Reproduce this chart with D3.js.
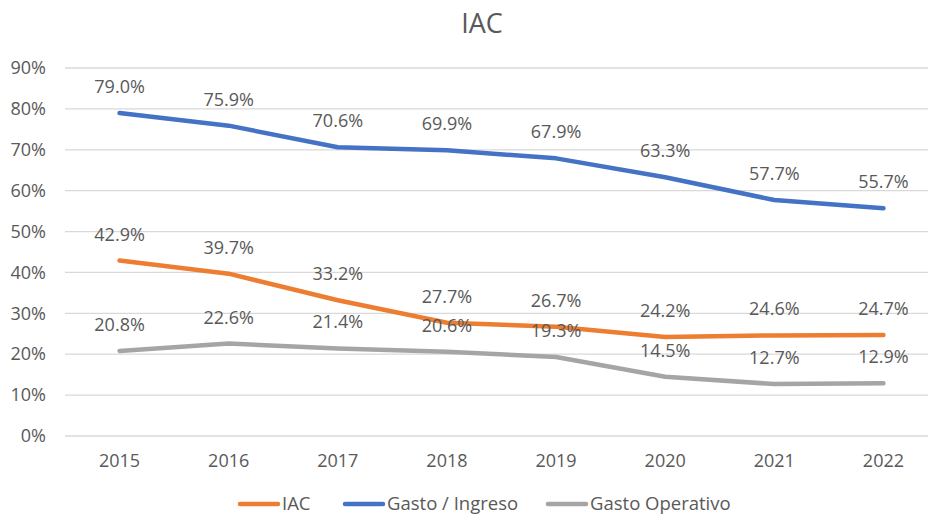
<!DOCTYPE html>
<html>
<head>
<meta charset="utf-8">
<script src="https://cdn.jsdelivr.net/npm/d3@7"></script>
<style>
  body { margin: 0; background: #fff; }
  text { font-family: "Open Sans", "Liberation Sans", sans-serif; }
</style>
</head>
<body>
<svg id="chart" width="928" height="517"></svg>
<script>
var years = ["2015", "2016", "2017", "2018", "2019", "2020", "2021", "2022"];
var iac = [42.9, 39.7, 33.2, 27.7, 26.7, 24.2, 24.6, 24.7];
var gastoIngreso = [79.0, 75.9, 70.6, 69.9, 67.9, 63.3, 57.7, 55.7];
var gastoOperativo = [20.8, 22.6, 21.4, 20.6, 19.3, 14.5, 12.7, 12.9];
var yTicks = [0, 10, 20, 30, 40, 50, 60, 70, 80, 90];

var series = [
    { name: "IAC", values: iac, color: "#ED7D31" },
    { name: "Gasto / Ingreso", values: gastoIngreso, color: "#4472C4" },
    { name: "Gasto Operativo", values: gastoOperativo, color: "#A5A5A5" }
];

var svg = d3.select("#chart");
var txt = "#595959";
var fs = 18;

var x = d3.scaleBand().domain(years).range([65, 938]);
var y = d3.scaleLinear().domain([0, 90]).range([436, 68]);

// title
svg.append("text")
    .attr("x", 482).attr("y", 33).attr("text-anchor", "middle")
    .attr("font-size", 27).attr("fill", txt).text("IAC");

// gridlines
svg.selectAll(".grid").data(yTicks).enter().append("line")
    .attr("x1", 65).attr("x2", 928)
    .attr("y1", function(d) { return y(d); }).attr("y2", function(d) { return y(d); })
    .attr("stroke", "#D9D9D9").attr("stroke-width", 1.3);

// y axis labels
var yAxis = d3.axisLeft(y).tickValues(yTicks).tickSize(0).tickPadding(0)
    .tickFormat(function(d) { return d + "%"; });
var gy = svg.append("g").attr("transform", "translate(46,0)").call(yAxis);
gy.select(".domain").remove();
gy.selectAll("text").attr("font-size", fs).attr("fill", txt)
    .attr("font-family", "'Open Sans', 'Liberation Sans', sans-serif");

// x axis labels
var xAxis = d3.axisBottom(x).tickSize(0).tickPadding(0);
var gx = svg.append("g").attr("transform", "translate(0,454)").call(xAxis);
gx.select(".domain").remove();
gx.selectAll("text").attr("font-size", fs).attr("fill", txt)
    .attr("font-family", "'Open Sans', 'Liberation Sans', sans-serif");

var cx = function(d, i) { return x(years[i]) + x.bandwidth() / 2; };
var line = d3.line().x(cx).y(function(d) { return y(d); });

series.forEach(function(s) {
    svg.append("path")
        .datum(s.values)
        .attr("d", line)
        .attr("fill", "none")
        .attr("stroke", s.color)
        .attr("stroke-width", 4.5)
        .attr("stroke-linecap", "round")
        .attr("stroke-linejoin", "round");
});

// data labels
series.forEach(function(s) {
    svg.append("g").selectAll("text").data(s.values).enter().append("text")
        .attr("x", cx)
        .attr("y", function(d) { return y(d) - 20; })
        .attr("text-anchor", "middle")
        .attr("font-size", fs).attr("fill", txt)
        .text(function(d) { return d.toFixed(1) + "%"; });
});

// legend
var legendX = [240, 345, 548];
series.forEach(function(s, i) {
    var g = svg.append("g").attr("transform", "translate(" + legendX[i] + ",504)");
    g.append("line").attr("x1", 0).attr("x2", 38).attr("y1", 0).attr("y2", 0)
        .attr("stroke", s.color).attr("stroke-width", 4.5).attr("stroke-linecap", "round");
    g.append("text").attr("x", 42).attr("y", 6)
        .attr("font-size", 18.5).attr("fill", txt).text(s.name);
});
</script>
</body>
</html>
